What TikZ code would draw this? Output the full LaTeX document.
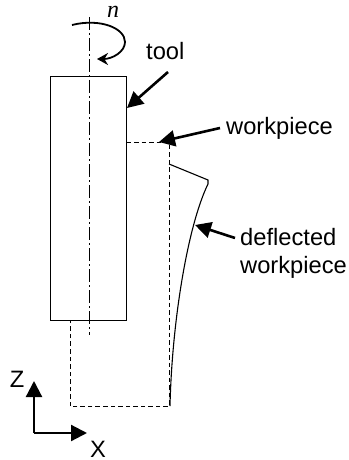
\documentclass[tikz,border=0pt]{standalone}
\usepackage{fontspec}
\setmainfont{Liberation Sans}
\newfontfamily\symfont{Liberation Serif}
\usetikzlibrary{arrows.meta}
\tikzset{
  lbl/.style={inner sep=0pt,font=\fontsize{23.7bp}{28bp}\selectfont},
  body/.style={draw=black,line width=1bp},
  dashline/.style={draw=black,line width=1bp,dash pattern=on 4.5bp off 3bp},
  axisline/.style={draw=black,line width=1bp,dash pattern=on 13bp off 3bp on 2bp off 3bp},
  pointer/.style={draw=black,line width=2.6bp,-{Triangle[length=16bp,width=16bp]}},
  spin/.style={draw=black,line width=1.8bp,-{Stealth[length=11bp,width=12bp]}},
  frame/.style={draw=black,line width=2.2bp,-{Triangle[length=16bp,width=16bp]}}
}
\begin{document}
\begin{tikzpicture}[x=1bp,y=-1bp]
\useasboundingbox (0,0) rectangle (348,460);
% axis and tool
\coordinate (at) at (89.5,17);
\coordinate (ab) at (89.5,335);
\draw[axisline] (at) -- (ab);
\node[body,minimum width=76bp,minimum height=244bp,inner sep=0pt] (toolbox) at (88.5,198.5) {};
% workpiece outline
\coordinate (w1) at (126.5,142.5);
\coordinate (w2) at (169,142.5);
\coordinate (w3) at (169,406);
\coordinate (w4) at (70,406);
\coordinate (w5) at (70,320);
\draw[dashline] (w1) -- (w2) -- (w3) -- (w4) -- (w5);
% deflected workpiece
\coordinate (d1) at (169,164);
\coordinate (d2) at (208,180);
\coordinate (d3) at (208,184);
\coordinate (d4) at (170,406);
\draw[draw=black,line width=1.1bp] (d1) -- (d2) -- (d3) .. controls (188,225) and (172,320) .. (d4);
% rotation
\coordinate (r1) at (72,25);
\coordinate (r2) at (97,59);
\draw[spin] (r1) .. controls (100,18) and (125,28) .. (125,42) .. controls (125,52) and (112,59) .. (r2);
\node[inner sep=0pt,font=\fontsize{24bp}{26bp}\selectfont\symfont\itshape] (n) at (113,12) {n};
% labels
\node[lbl,anchor=base west] (tool) at (146,60) {tool};
\node[lbl,anchor=base west] (wp) at (226,135) {workpiece};
\node[lbl,anchor=base west] (defl) at (240,245) {deflected};
\node[lbl,anchor=base west] (wp2) at (240,273) {workpiece};
\coordinate (t1) at (168,72);
\coordinate (t2) at (127,108);
\coordinate (t3) at (220,128);
\coordinate (t4) at (159,142);
\coordinate (t5) at (235,238);
\coordinate (t6) at (195,225);
\draw[pointer] (t1) -- (t2);
\draw[pointer] (t3) -- (t4);
\draw[pointer] (t5) -- (t6);
% frame
\coordinate (o) at (34,433);
\coordinate (oz) at (34,381);
\coordinate (ox) at (87,433);
\draw[frame] (o) -- (oz);
\draw[frame] (o) -- (ox);
\node[lbl] (z) at (17,379) {Z};
\node[lbl] (x) at (98,449.5) {X};
\end{tikzpicture}
\end{document}
